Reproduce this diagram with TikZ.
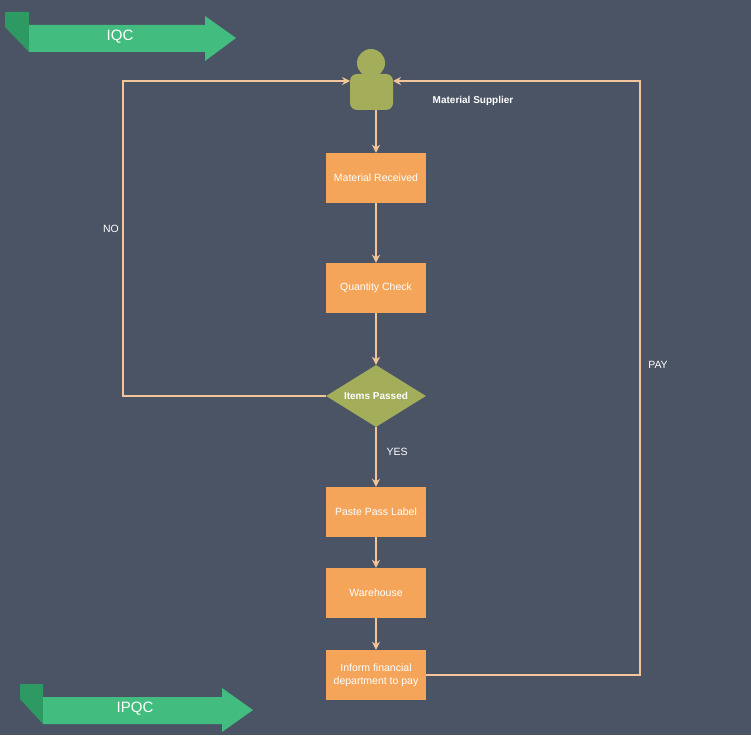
\documentclass[tikz,border=0pt]{standalone}
\usepackage{fontspec}
\setmainfont{Liberation Sans}
\usetikzlibrary{shapes.geometric,arrows.meta}
\definecolor{bg}{HTML}{4A5465}
\definecolor{box}{HTML}{F5A55A}
\definecolor{olive}{HTML}{A3AD5A}
\definecolor{wire}{HTML}{F3C59A}
\definecolor{band}{HTML}{42BD7F}
\definecolor{fold}{HTML}{2E9A63}
\tikzset{
  stage/.style={rectangle,fill=box,minimum width=100pt,minimum height=50pt,text=white,font=\fontsize{10.5}{13}\selectfont,align=center,inner sep=1pt},
  check/.style={diamond,fill=olive,minimum width=100pt,minimum height=62pt,aspect=1.6,inner sep=0pt,text=white,font=\bfseries\fontsize{10}{12}\selectfont},
  flow/.style={draw=wire,line width=1.4pt,-{Stealth[length=8pt,width=8pt]}},
  tag/.style={text=white,font=\fontsize{10.5}{13}\selectfont}
}
\begin{document}
\begin{tikzpicture}[x=1pt,y=-1pt]
    \fill[bg] (0,0) rectangle (751,735);
    \useasboundingbox (0,0) rectangle (751,735);
    % stage banners
    \fill[fold] (5,12) -- (29,12) -- (29,52) -- (5,27) -- cycle;
    \fill[band] (29,25) -- (205,25) -- (205,16) -- (236,38) -- (205,61) -- (205,52) -- (29,52) -- cycle;
    \node[text=white,font=\fontsize{15}{18}\selectfont] (iqc) at (120,37) {IQC};
    \fill[fold] (20,684) -- (43,684) -- (43,724) -- (20,699) -- cycle;
    \fill[band] (43,697) -- (222,697) -- (222,688) -- (253,710) -- (222,732) -- (222,724) -- (43,724) -- cycle;
    \node[text=white,font=\fontsize{15}{18}\selectfont] (ipqc) at (135,709) {IPQC};
    % supplier
    \fill[olive] (371,63) circle (14);
    \fill[olive,rounded corners=7pt] (350,74) rectangle (393,110);
    \node[inner sep=0pt,minimum width=42pt,minimum height=36pt] (sup) at (371,92) {};
    \node[tag,font=\bfseries\fontsize{10}{12}\selectfont] (suplabel) at (473,101) {Material Supplier};
    % steps
    \node[stage] (recv) at (376,178) {Material Received};
    \node[stage] (qty) at (376,288) {Quantity Check};
    \node[check] (pass) at (376,396) {Items Passed};
    \node[stage] (label) at (376,512) {Paste Pass Label};
    \node[stage] (store) at (376,593) {Warehouse};
    \node[stage] (pay) at (376,675) {Inform financial\\department to pay};
    \coordinate (nl) at (123,396);
    \coordinate (nt) at (123,81);
    \coordinate (pr) at (640,675);
    \coordinate (pt) at (640,81);
    \coordinate (sl) at (350,81);
    \coordinate (sr) at (393,81);
    \coordinate (sb) at (376,110);
    \draw[flow] (sb) -- (recv);
    \draw[flow] (recv) -- (qty);
    \draw[flow] (qty) -- (pass);
    \draw[flow] (pass) -- (label);
    \draw[flow] (label) -- (store);
    \draw[flow] (store) -- (pay);
    \draw[flow] (pass.west) -- (nl) -- (nt) -- (sl);
    \draw[flow] (pay.east) -- (pr) -- (pt) -- (sr);
    \node[tag] (no) at (111,229) {NO};
    \node[tag] (yes) at (397,452) {YES};
    \node[tag] (paid) at (658,365) {PAY};
\end{tikzpicture}
\end{document}
